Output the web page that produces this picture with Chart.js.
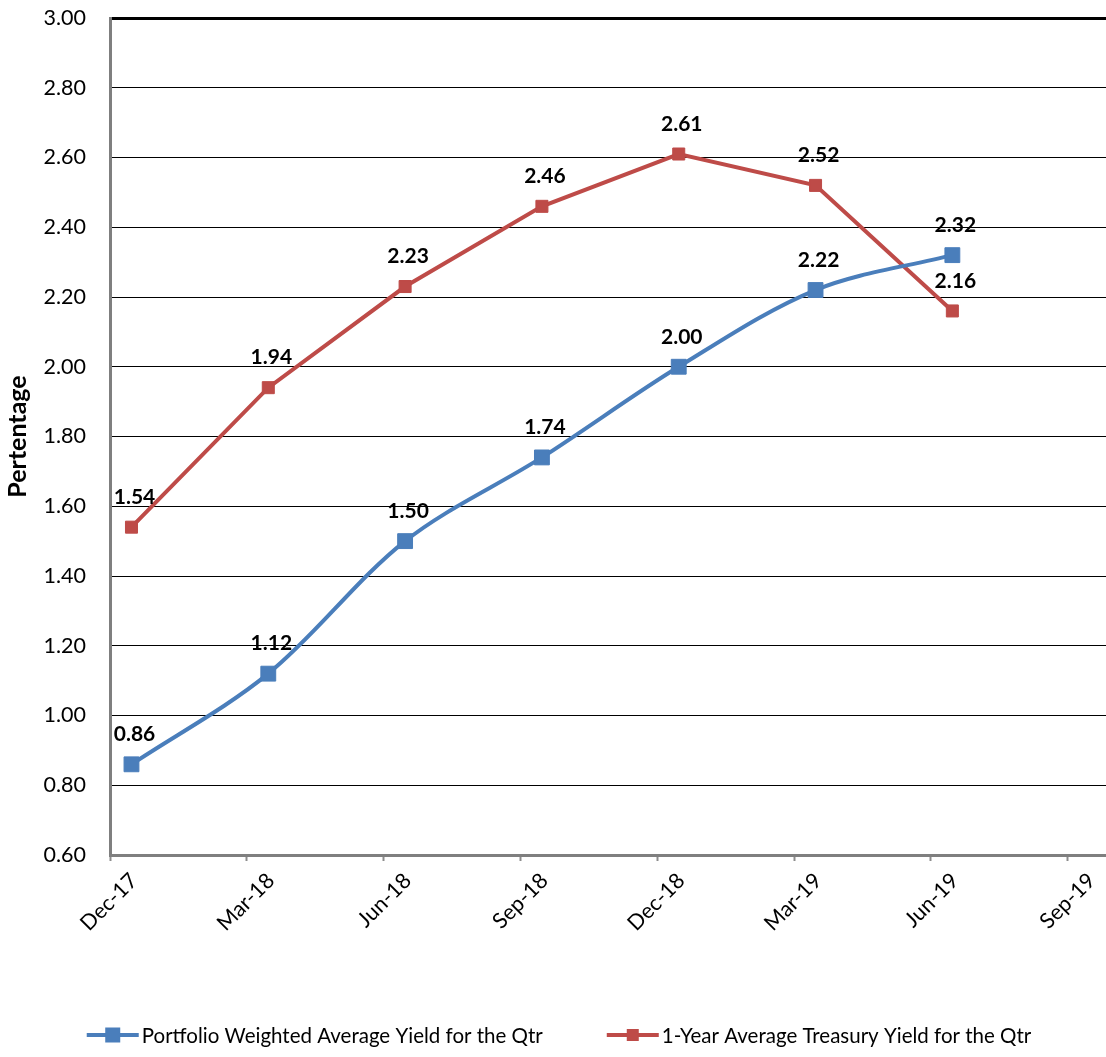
<!DOCTYPE html>
<html>
<head>
<meta charset="utf-8">
<script src="https://cdn.jsdelivr.net/npm/chart.js@4/dist/chart.umd.min.js"></script>
<style>
html,body{margin:0;padding:0;background:#ffffff;}
#wrap{width:1106px;height:1057px;}
</style>
</head>
<body>
<div id="wrap"><canvas id="c" width="1106" height="1057"></canvas></div>
<script>
const categories = ['Dec-17','Mar-18','Jun-18','Sep-18','Dec-18','Mar-19','Jun-19'];
const tickLabels = ['Dec-17','Mar-18','Jun-18','Sep-18','Dec-18','Mar-19','Jun-19','Sep-19'];
const portfolioYield = [0.86, 1.12, 1.50, 1.74, 2.00, 2.22, 2.32];
const treasuryYield  = [1.54, 1.94, 2.23, 2.46, 2.61, 2.52, 2.16];
const seriesNames = ['Portfolio Weighted Average Yield for the Qtr', '1-Year Average Treasury Yield for the Qtr'];
const yAxisTitle = 'Pertentage';

const BLUE = '#4a7ebb';
const RED = '#be4b48';
const FONT = 'Lato';
const POINT_SHIFT = 0.157; // points sit mid-month after the quarter tick

Chart.defaults.font.family = FONT;
Chart.defaults.color = '#000000';

const toPoints = vals => vals.map((v, i) => ({ x: i + POINT_SHIFT, y: v }));

const dataLabelPlugin = {
  id: 'dataLabels',
  afterDatasetsDraw(chart) {
    const ctx = chart.ctx;
    ctx.save();
    ctx.font = 'bold 21px ' + FONT;
    ctx.fillStyle = '#000000';
    ctx.textAlign = 'center';
    ctx.textBaseline = 'middle';
    chart.data.datasets.forEach((ds, di) => {
      const meta = chart.getDatasetMeta(di);
      meta.data.forEach((pt, i) => {
        ctx.fillText(ds.data[i].y.toFixed(2), pt.x + 3, pt.y - 30);
      });
    });
    ctx.restore();
  }
};

const legendPlugin = {
  id: 'bottomLegend',
  afterDraw(chart) {
    const ctx = chart.ctx;
    ctx.save();
    ctx.font = '20.5px ' + FONT;
    ctx.textBaseline = 'middle';
    ctx.textAlign = 'left';
    const iconW = 52, iconGap = 3, itemGap = 64;
    const items = chart.data.datasets.map(ds => ({
      label: ds.label, color: ds.borderColor, size: ds.legendMarker,
      w: iconW + iconGap + ctx.measureText(ds.label).width
    }));
    const total = items.reduce((s, it) => s + it.w, 0) + itemGap * (items.length - 1);
    let x = chart.width / 2 + 6 - total / 2;
    const y = 1035;
    items.forEach(it => {
      ctx.strokeStyle = it.color;
      ctx.lineWidth = 4;
      ctx.beginPath();
      ctx.moveTo(x, y);
      ctx.lineTo(x + iconW, y);
      ctx.stroke();
      ctx.fillStyle = it.color;
      ctx.fillRect(x + iconW / 2 - it.size / 2, y - it.size / 2, it.size, it.size);
      ctx.fillStyle = '#000000';
      ctx.fillText(it.label, x + iconW + iconGap, y + 1);
      x += it.w + itemGap;
    });
    ctx.restore();
  }
};

new Chart(document.getElementById('c'), {
  type: 'line',
  data: {
    datasets: [
      {
        label: seriesNames[0],
        data: toPoints(portfolioYield),
        borderColor: BLUE,
        backgroundColor: BLUE,
        borderWidth: 4,
        tension: 0.33,
        pointStyle: 'rect',
        pointRadius: 10.5,
        pointBorderWidth: 1,
        pointBorderColor: BLUE,
        pointBackgroundColor: BLUE,
        legendMarker: 15,
        fill: false
      },
      {
        label: seriesNames[1],
        data: toPoints(treasuryYield),
        borderColor: RED,
        backgroundColor: RED,
        borderWidth: 4,
        tension: 0,
        pointStyle: 'rect',
        pointRadius: 8.5,
        pointBorderWidth: 1,
        pointBorderColor: RED,
        pointBackgroundColor: RED,
        legendMarker: 12,
        fill: false
      }
    ]
  },
  options: {
    responsive: false,
    animation: false,
    devicePixelRatio: 1,
    layout: { autoPadding: false, padding: { top: 18, right: 0, bottom: 0, left: 0 } },
    plugins: {
      legend: { display: false },
      tooltip: { enabled: false },
      title: { display: false }
    },
    scales: {
      x: {
        type: 'linear',
        min: 0,
        max: 7.28,
        afterBuildTicks(scale) {
          scale.ticks = tickLabels.map((_, i) => ({ value: i }));
        },
        afterFit(scale) {
          scale.height = 202;
          scale.paddingLeft = 0;
          scale.paddingRight = 0;
        },
        ticks: {
          autoSkip: false,
          minRotation: 45,
          maxRotation: 45,
          padding: 7,
          labelOffset: 24,
          color: '#000000',
          font: { size: 21.5 },
          callback: v => tickLabels[v]
        },
        grid: {
          drawOnChartArea: false,
          drawTicks: true,
          tickLength: 6,
          tickColor: '#8c8c8c',
          tickWidth: 2,
          color: '#8c8c8c'
        },
        border: { display: true, color: '#7f7f7f', width: 3 }
      },
      y: {
        min: 0.6,
        max: 3.0,
        afterFit(scale) {
          scale.width = 110;
          scale.paddingTop = 0;
          scale.paddingBottom = 0;
        },
        ticks: {
          stepSize: 0.2,
          padding: 24,
          color: '#000000',
          font: { size: 21.5 },
          callback: v => Number(v).toFixed(2)
        },
        grid: {
          drawTicks: false,
          color: ctx => {
            const v = ctx.tick ? ctx.tick.value : 0;
            if (Math.abs(v - 0.6) < 1e-6) return 'rgba(0,0,0,0)';
            return '#000000';
          },
          lineWidth: ctx => {
            const v = ctx.tick ? ctx.tick.value : 0;
            return Math.abs(v - 3.0) < 1e-6 ? 3 : 1;
          }
        },
        border: { display: true, color: '#7f7f7f', width: 3 },
        title: {
          display: true,
          text: yAxisTitle,
          color: '#000000',
          font: { size: 25, weight: 'bold' },
          padding: { top: 3, bottom: 0 }
        }
      }
    }
  },
  plugins: [dataLabelPlugin, legendPlugin]
});
</script>
</body>
</html>
